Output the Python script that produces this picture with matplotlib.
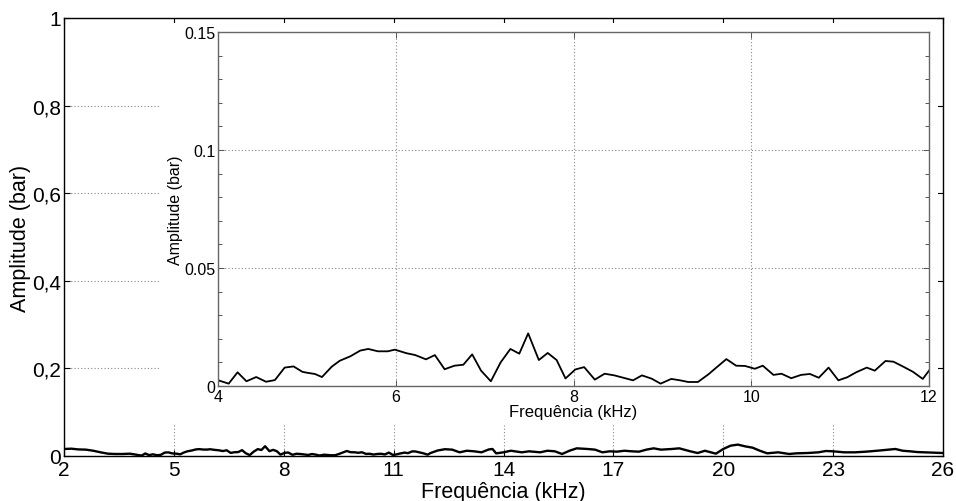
import numpy as np
import matplotlib
matplotlib.use("Agg")
import matplotlib.pyplot as plt
from matplotlib.patches import Rectangle
from matplotlib.ticker import MultipleLocator

plt.rcParams['font.family'] = ['Liberation Sans', 'DejaVu Sans']

# Spectrum 2-4 kHz (full view only)
freq_low = [2.0, 2.2, 2.4, 2.6, 2.8, 3.0, 3.2, 3.4, 3.6, 3.8]
amp_low = [0.016, 0.0167, 0.015, 0.0145, 0.012, 0.0084, 0.0053, 0.0046, 0.0046, 0.0053]

# Spectrum 4-12 kHz (detail view)
freq_mid = [4.00, 4.02, 4.12, 4.22, 4.32, 4.43, 4.54, 4.64, 4.75, 4.85, 4.95, 5.02, 5.09,
            5.17, 5.28, 5.37, 5.49, 5.60, 5.69, 5.80, 5.91, 5.99, 6.12, 6.22, 6.34, 6.44,
            6.55, 6.66, 6.76, 6.86, 6.96, 7.07, 7.18, 7.29, 7.39, 7.49, 7.61, 7.71, 7.81,
            7.91, 8.02, 8.12, 8.24, 8.35, 8.46, 8.57, 8.67, 8.77, 8.88, 8.98, 9.10, 9.20,
            9.29, 9.40, 9.52, 9.61, 9.72, 9.83, 9.93, 10.04, 10.13, 10.25, 10.34, 10.45,
            10.56, 10.66, 10.76, 10.87, 10.98, 11.08, 11.18, 11.30, 11.39, 11.51, 11.60,
            11.71, 11.82, 11.93, 12.00]
amp_mid = [0.0025, 0.0022, 0.0010, 0.0058, 0.0020, 0.0038, 0.0018, 0.0025, 0.0078, 0.0083,
           0.0060, 0.0055, 0.0051, 0.0038, 0.0082, 0.0107, 0.0126, 0.0150, 0.0157, 0.0147,
           0.0147, 0.0154, 0.0139, 0.0131, 0.0113, 0.0131, 0.0071, 0.0086, 0.0090, 0.0134,
           0.0065, 0.0020, 0.0100, 0.0157, 0.0137, 0.0223, 0.0110, 0.0140, 0.0110, 0.0032,
           0.0070, 0.0080, 0.0027, 0.0052, 0.0045, 0.0034, 0.0024, 0.0045, 0.0031, 0.0010,
           0.0030, 0.0024, 0.0017, 0.0017, 0.0050, 0.0079, 0.0114, 0.0086, 0.0085, 0.0073,
           0.0086, 0.0047, 0.0052, 0.0033, 0.0047, 0.0051, 0.0035, 0.0078, 0.0024, 0.0037,
           0.0058, 0.0078, 0.0065, 0.0106, 0.0103, 0.0082, 0.0060, 0.0030, 0.0065]

# Spectrum 12-26 kHz (full view only)
freq_high = [12.2, 12.4, 12.6, 12.8, 13.0, 13.2, 13.4, 13.6, 13.7, 13.8, 14.0, 14.2, 14.5,
             14.7, 15.0, 15.2, 15.4, 15.6, 15.8, 16.0, 16.3, 16.5, 16.7, 16.9, 17.1, 17.3,
             17.5, 17.7, 17.9, 18.1, 18.3, 18.6, 18.8, 19.1, 19.3, 19.5, 19.8, 20.0, 20.2,
             20.4, 20.6, 20.8, 21.0, 21.2, 21.5, 21.8, 22.0, 22.3, 22.6, 22.8, 23.0, 23.3,
             23.6, 23.9, 24.2, 24.5, 24.7, 24.9, 25.1, 25.3, 25.5, 25.7, 26.0]
amp_high = [0.0125, 0.0155, 0.0145, 0.0084, 0.012, 0.0107, 0.0084, 0.015, 0.016, 0.006,
            0.0084, 0.012, 0.0084, 0.0107, 0.0084, 0.012, 0.0107, 0.0046, 0.012, 0.0175,
            0.016, 0.0145, 0.0084, 0.0107, 0.0099, 0.012, 0.0107, 0.0099, 0.0145, 0.0175,
            0.0145, 0.016, 0.0175, 0.0107, 0.0068, 0.012, 0.0053, 0.016, 0.0236, 0.026,
            0.022, 0.019, 0.012, 0.0061, 0.0084, 0.0046, 0.0061, 0.0068, 0.0084, 0.0114,
            0.0107, 0.0084, 0.0084, 0.0099, 0.012, 0.0145, 0.016, 0.012, 0.0107, 0.009,
            0.0084, 0.0076, 0.0068]

main_xticks = [2, 5, 8, 11, 14, 17, 20, 23, 26]
main_yticks = [0, 0.2, 0.4, 0.6, 0.8, 1.0]
main_yticklabels = ['0', '0,2', '0,4', '0,6', '0,8', '1']
inset_xticks = [4, 6, 8, 10, 12]
inset_yticks = [0, 0.05, 0.1, 0.15]
inset_yticklabels = ['0', '0.05', '0.1', '0.15']

freq_all = freq_low + freq_mid + freq_high
amp_all = amp_low + amp_mid + amp_high

W, H = 956, 502
fig = plt.figure(figsize=(W / 100, H / 100), dpi=100)
fig.patch.set_facecolor('white')

def fx(px):
    return px / W

def fy(py):
    return 1 - py / H

# Full spectrum
ax = fig.add_axes([fx(64), fy(457), fx(943) - fx(64), fy(19) - fy(457)], zorder=0)
ax.plot(freq_all, amp_all, color='black', lw=1.7)
ax.set_xlim(2, 26)
ax.set_ylim(0, 1)
ax.set_xticks(main_xticks)
ax.set_xticklabels([str(t) for t in main_xticks])
ax.set_yticks(main_yticks)
ax.set_yticklabels(main_yticklabels)
ax.grid(True, color='#888888', linestyle=(0, (1, 2)), linewidth=0.8)
ax.tick_params(direction='in', top=True, right=True, length=4, width=0.8,
               labelsize=15)
ax.tick_params(axis='x', pad=3)
ax.tick_params(axis='y', pad=2)
for s in ax.spines.values():
    s.set_color('black')
    s.set_linewidth(1.0)
ax.set_xlabel('Frequência (kHz)', fontsize=15.5, labelpad=1)
ax.set_ylabel('Amplitude (bar)', fontsize=15.5, labelpad=1)

# White backing behind the detail view
fig.add_artist(Rectangle((fx(161), fy(425)), fx(938) - fx(161), fy(24) - fy(425),
                         transform=fig.transFigure, facecolor='white',
                         edgecolor='none', zorder=0.5))

# Detail view 4-12 kHz
ins = fig.add_axes([fx(218), fy(387), fx(929) - fx(218), fy(33) - fy(387)], zorder=1)
ins.plot(freq_mid, amp_mid, color='black', lw=1.3)
ins.set_xlim(4, 12)
ins.set_ylim(0, 0.15)
ins.set_xticks(inset_xticks)
ins.set_xticklabels([str(t) for t in inset_xticks])
ins.set_yticks(inset_yticks)
ins.set_yticklabels(inset_yticklabels)
ins.yaxis.set_minor_locator(MultipleLocator(0.01))
ins.grid(True, which='major', color='#888888', linestyle=(0, (1, 2)), linewidth=0.8)
ins.tick_params(which='both', direction='in', top=True, right=True, width=0.7,
                color='#555555', labelsize=11.5, pad=2)
ins.tick_params(which='major', length=4)
ins.tick_params(which='minor', length=3)
for s in ins.spines.values():
    s.set_color('#666666')
    s.set_linewidth(1.0)
ins.set_xlabel('Frequência (kHz)', fontsize=12, labelpad=0)
ins.set_ylabel('Amplitude (bar)', fontsize=11.5, labelpad=1)

fig.savefig('out.png', dpi=100)
